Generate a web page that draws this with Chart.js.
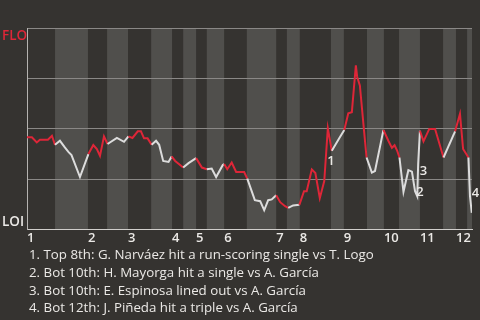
<!DOCTYPE html>
<html>
<head>
<meta charset="utf-8">
<script src="https://cdn.jsdelivr.net/npm/chart.js@4.4.1/dist/chart.umd.min.js"></script>
<style>
  html, body { margin: 0; padding: 0; background: #353330; }
  #wrap { position: relative; width: 480px; height: 250px; }
  #notes {
    position: absolute; left: 29px; top: 246px;
    color: #ebe9e6; font: 13.3px "Open Sans", sans-serif; line-height: 17.8px;
  }
</style>
</head>
<body>
<div id="wrap"><canvas id="wp"></canvas></div>
<div id="notes"></div>
<script>
/********************
 * Data: game progress (% of plays) and FLO win probability
 ********************/
const inningLabels = ["1","2","3","4","5","6","7","8","9","10","11","12"];
const topStarts = [0, 13.7, 22.7, 32.6, 38.0, 44.3, 56.0, 61.3, 71.2, 80.2, 88.3, 96.4];
const botStarts = [6.3, 18.0, 27.9, 35.1, 40.4, 49.4, 58.4, 68.3, 76.4, 83.6, 93.5, 98.9];
const gameEnd = 100;

const progress = [
  0.0, 1.1, 2.2, 2.9, 4.7, 5.6, 6.3, 7.4, 8.5, 9.3, 10.0, 11.9,
  13.8, 14.9, 15.7, 16.4, 17.3, 18.1, 20.2, 21.8, 22.8, 23.7, 24.9, 25.6,
  26.3, 27.1, 28.0, 29.0, 29.7, 30.6, 31.8, 32.5, 33.3, 35.1, 36.3, 38.0,
  39.3, 40.4, 41.5, 42.5, 44.0, 44.3, 45.0, 46.0, 47.0, 48.8, 49.5, 51.2,
  52.4, 53.3, 54.2, 55.0, 56.0, 56.9, 58.0, 58.7, 59.8, 61.2, 62.25, 62.85,
  64.0, 64.8, 65.8, 66.8, 67.6, 68.5, 70.3, 71.3, 72.2, 73.0, 73.9, 74.2,
  74.8, 75.7, 76.3, 77.5, 78.2, 80.1, 81.2, 82.0, 82.6, 83.2, 83.7, 84.6,
  85.7, 86.5, 87.2, 87.7, 87.9, 88.3, 89.1, 90.4, 91.7, 93.6, 96.2, 97.3,
  98.0, 99.2, 99.55, 99.95
];
const winProb = [
  0.457, 0.457, 0.432, 0.445, 0.445, 0.465, 0.420, 0.440, 0.407, 0.385, 0.369, 0.260,
  0.374, 0.419, 0.399, 0.365, 0.462, 0.424, 0.454, 0.435, 0.462, 0.454, 0.487, 0.487,
  0.452, 0.452, 0.420, 0.440, 0.420, 0.340, 0.335, 0.362, 0.340, 0.307, 0.329, 0.354,
  0.307, 0.299, 0.302, 0.260, 0.320, 0.325, 0.299, 0.332, 0.285, 0.285, 0.252, 0.145,
  0.140, 0.095, 0.145, 0.149, 0.170, 0.135, 0.115, 0.107, 0.119, 0.122, 0.190, 0.190,
  0.298, 0.280, 0.155, 0.240, 0.502, 0.390, 0.457, 0.494, 0.577, 0.582, 0.815, 0.757,
  0.715, 0.499, 0.357, 0.282, 0.290, 0.494, 0.440, 0.405, 0.418, 0.390, 0.357, 0.187,
  0.294, 0.287, 0.190, 0.165, 0.324, 0.490, 0.437, 0.499, 0.499, 0.357, 0.487, 0.574,
  0.399, 0.357, 0.165, 0.082
];

// key-play markers (label centre, same units as the line)
const markLabels = ["1", "2", "3", "4"];
const markX = [68.3, 88.3, 89.1, 100.8];
const markY = [0.34, 0.185, 0.29, 0.178];

const notes = [
  "1. Top 8th: G. Narváez hit a run-scoring single vs T. Logo",
  "2. Bot 10th: H. Mayorga hit a single vs A. García",
  "3. Bot 10th: E. Espinosa lined out vs A. García",
  "4. Bot 12th: J. Piñeda hit a triple vs A. García"
];

const teamTop = "FLO";
const teamBottom = "LOI";

/********************
 * Styles
 ********************/
const BG = "#353330";
const BAND = "#504f4c";
const RED = "#de2638";
const WHITE = "#dcdcdc";
const TEXT = "#ebe9e6";
const GRID = "#8a8886";
const FONT = "'Open Sans', sans-serif";

function isTopHalf(x){
  for(let i = topStarts.length - 1; i >= 0; i--){
    if(x >= topStarts[i]) return x < botStarts[i];
  }
  return true;
}

const inningBands = {
  id: "inningBands",
  beforeDraw(chart){
    const { ctx, chartArea: a, scales: { x } } = chart;
    ctx.save();
    ctx.fillStyle = BG;
    ctx.fillRect(0, 0, chart.width, chart.height);
    ctx.fillStyle = BAND;
    botStarts.forEach((b, i) => {
      const e = i + 1 < topStarts.length ? topStarts[i + 1] : gameEnd;
      const x0 = x.getPixelForValue(b), x1 = x.getPixelForValue(e);
      ctx.fillRect(x0, a.top, x1 - x0, a.bottom - a.top);
    });
    ctx.restore();
  }
};

const sideLabels = {
  id: "sideLabels",
  afterDraw(chart){
    const { ctx, chartArea: a, scales: { x, y } } = chart;
    ctx.save();
    ctx.font = "600 13.5px " + FONT;
    ctx.textAlign = "left";
    ctx.fillStyle = RED;
    ctx.textBaseline = "top";
    ctx.fillText(teamTop, 2, a.top + 1);
    ctx.fillStyle = TEXT;
    ctx.textBaseline = "bottom";
    ctx.fillText(teamBottom, 2, a.bottom);

    ctx.font = "600 13px " + FONT;
    ctx.textAlign = "center";
    ctx.textBaseline = "middle";
    ctx.fillStyle = TEXT;
    markLabels.forEach((t, i) => {
      ctx.fillText(t, x.getPixelForValue(markX[i]), y.getPixelForValue(markY[i]));
    });
    ctx.restore();
  }
};

document.getElementById("notes").innerHTML = notes.map(n => "<div>" + n + "</div>").join("");

new Chart(document.getElementById("wp"), {
  type: "line",
  data: {
    datasets: [{
      data: progress.map((p, i) => ({ x: p, y: winProb[i] })),
      borderWidth: 2,
      pointRadius: 0,
      tension: 0,
      segment: {
        borderColor: c => isTopHalf((c.p0.parsed.x + c.p1.parsed.x) / 2) ? RED : WHITE
      }
    }]
  },
  options: {
    responsive: true,
    maintainAspectRatio: false,
    animation: false,
    events: [],
    layout: { padding: { left: 27, right: 8, top: 28, bottom: 3 } },
    plugins: { legend: { display: false }, tooltip: { enabled: false } },
    scales: {
      x: {
        type: "linear",
        min: 0,
        max: gameEnd,
        afterBuildTicks: s => { s.ticks = topStarts.map(v => ({ value: v })); },
        grid: { display: false, drawTicks: false },
        border: { color: "#d0cecb", width: 1 },
        ticks: {
          autoSkip: false,
          maxRotation: 0,
          align: "start",
          padding: 1,
          color: TEXT,
          font: { family: FONT, size: 13, weight: "600" },
          callback: (v, i) => inningLabels[i]
        }
      },
      y: {
        min: 0,
        max: 1,
        afterBuildTicks: s => { s.ticks = [0, 0.25, 0.5, 0.75, 1].map(v => ({ value: v })); },
        afterFit: s => { s.width = 0; },
        grid: { color: GRID, lineWidth: 1, drawTicks: false },
        border: { color: "#b5b3b0", width: 1 },
        ticks: { display: false }
      }
    }
  },
  plugins: [inningBands, sideLabels]
});
</script>
</body>
</html>
